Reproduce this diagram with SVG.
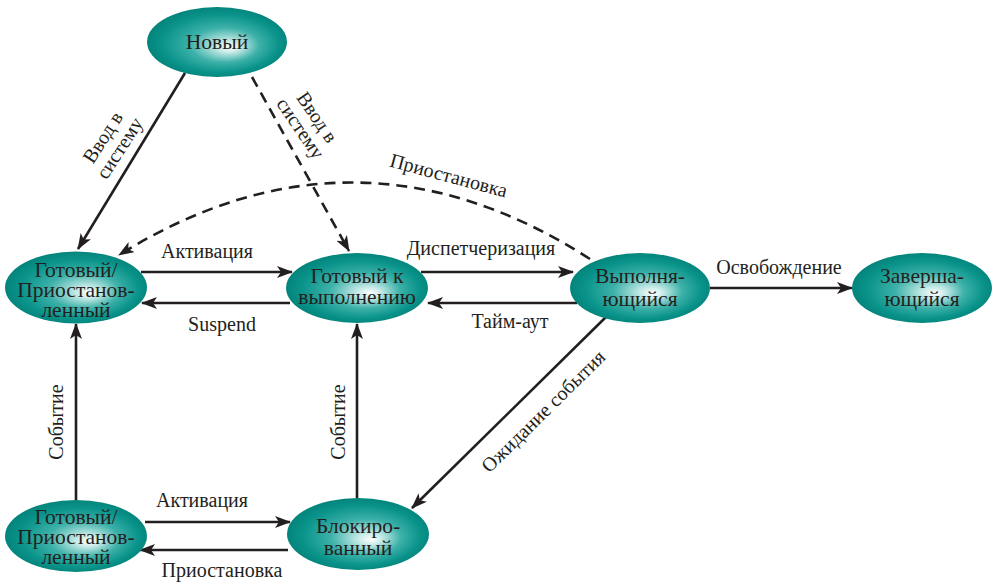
<svg xmlns="http://www.w3.org/2000/svg" width="997" height="585" viewBox="0 0 997 585">
<style>
.node{fill:url(#g);}
.nt{font-family:"Liberation Serif","Times New Roman",serif;font-size:21.5px;fill:#231f20;text-anchor:middle;}
.lbl{font-family:"Liberation Serif","Times New Roman",serif;font-size:20px;fill:#231f20;text-anchor:middle;}
.c{fill:none;stroke:#231f20;stroke-width:2.6;marker-end:url(#arr);}
.d{stroke-dasharray:11 7;}
</style>
<defs>
<radialGradient id="g" cx="0.5" cy="0.5" r="0.55" fx="0.6" fy="0.58">
<stop offset="0" stop-color="#ffffff"/>
<stop offset="0.15" stop-color="#c6eae7"/>
<stop offset="0.45" stop-color="#3db1a9"/>
<stop offset="0.75" stop-color="#0a948b"/>
<stop offset="1" stop-color="#007d74"/>
</radialGradient>
<marker id="arr" viewBox="0 0 16 12" refX="15" refY="6" markerWidth="16" markerHeight="12" markerUnits="userSpaceOnUse" orient="auto">
<path d="M0,0 L16,6 L0,12 L4,6 Z" fill="#231f20" stroke="none"/>
</marker>
</defs>

<g id="connectors">
<line class="c" x1="185" y1="73" x2="78" y2="249"/>
<line class="c d" x1="252" y1="77" x2="349" y2="251"/>
<path class="c d" d="M590,259 Q355,108 119,255"/>
<line class="c" x1="141" y1="272" x2="292" y2="272"/>
<line class="c" x1="290" y1="303" x2="142" y2="303"/>
<line class="c" x1="421" y1="272" x2="573" y2="272"/>
<line class="c" x1="577" y1="303" x2="428" y2="303"/>
<line class="c" x1="710" y1="288" x2="852" y2="288"/>
<line class="c" x1="607" y1="316" x2="412" y2="508"/>
<line class="c" x1="76" y1="500" x2="76" y2="324"/>
<line class="c" x1="357" y1="498" x2="357" y2="324"/>
<line class="c" x1="145" y1="522" x2="290" y2="522"/>
<line class="c" x1="288" y1="550" x2="140" y2="550"/>

<g id="labels">
<g transform="translate(110,142) rotate(-57)">
<text class="lbl" x="0" y="-2">Ввод в</text>
<text class="lbl" x="0" y="18">систему</text>
</g>
<g transform="translate(310,122) rotate(56)">
<text class="lbl" x="0" y="-2">Ввод в</text>
<text class="lbl" x="0" y="18">систему</text>
</g>
<text class="lbl" transform="rotate(15 447 182)" x="447" y="182">Приостановка</text>
<text class="lbl" x="207" y="258">Активация</text>
<text class="lbl" x="222" y="331">Suspend</text>
<text class="lbl" x="481" y="255">Диспетчеризация</text>
<text class="lbl" x="510" y="328">Тайм-аут</text>
<text class="lbl" x="779" y="274">Освобождение</text>
<text class="lbl" transform="rotate(-44.5 548 416)" x="548" y="416">Ожидание события</text>
<text class="lbl" transform="rotate(-90 63 422)" x="63" y="422">Событие</text>
<text class="lbl" transform="rotate(-90 345 422)" x="345" y="422">Событие</text>
<text class="lbl" x="202" y="507">Активация</text>
<text class="lbl" x="222" y="577">Приостановка</text>
</g>
</g>

<g id="n-new">
<ellipse class="node" cx="217" cy="42" rx="70" ry="35"/>
<text class="nt" x="217" y="49">Новый</text>
</g>
<g id="n-ready-susp-top">
<ellipse class="node" cx="76" cy="287.5" rx="71" ry="36"/>
<text class="nt" x="76" y="277">Готовый/</text>
<text class="nt" x="76" y="297">Приостанов-</text>
<text class="nt" x="76" y="317">ленный</text>
</g>
<g id="n-ready">
<ellipse class="node" cx="357" cy="288" rx="71" ry="35"/>
<text class="nt" x="357" y="283">Готовый к</text>
<text class="nt" x="357" y="304">выполнению</text>
</g>
<g id="n-running">
<ellipse class="node" cx="640" cy="288" rx="70" ry="35"/>
<text class="nt" x="640" y="283">Выполня-</text>
<text class="nt" x="640" y="306">ющийся</text>
</g>
<g id="n-exit">
<ellipse class="node" cx="922" cy="288" rx="70" ry="35"/>
<text class="nt" x="922" y="283">Заверша-</text>
<text class="nt" x="922" y="306">ющийся</text>
</g>
<g id="n-ready-susp-bottom">
<ellipse class="node" cx="76" cy="536" rx="71" ry="36"/>
<text class="nt" x="76" y="524">Готовый/</text>
<text class="nt" x="76" y="544">Приостанов-</text>
<text class="nt" x="76" y="564">ленный</text>
</g>
<g id="n-blocked">
<ellipse class="node" cx="358" cy="534" rx="71" ry="36"/>
<text class="nt" x="358" y="533">Блокиро-</text>
<text class="nt" x="358" y="555">ванный</text>
</g>
</svg>
